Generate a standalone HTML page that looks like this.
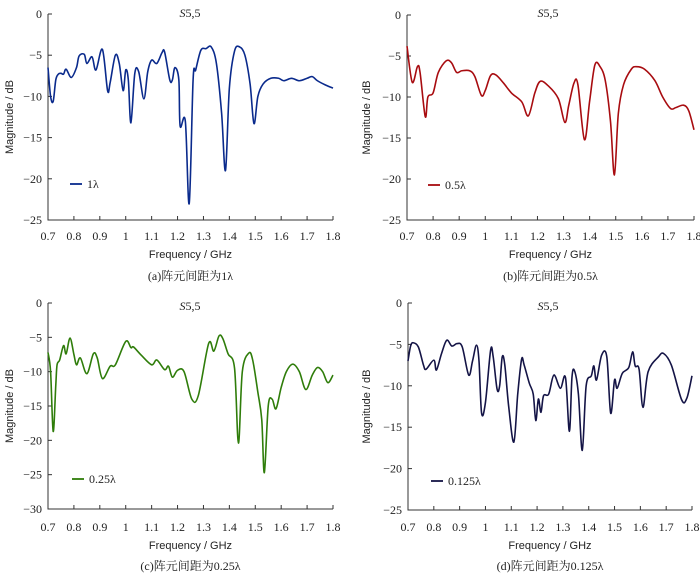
<!DOCTYPE html>
<html><head><meta charset="utf-8"><style>
body{margin:0;background:#fff;width:700px;height:577px;overflow:hidden}
svg text{font-family:"Liberation Serif","Noto Serif CJK SC",serif;font-size:12px;fill:#222}
.sans{font-family:"Liberation Sans","Noto Sans CJK SC",sans-serif;font-size:11px}
</style></head><body>
<svg id="fig" width="700" height="577" xmlns="http://www.w3.org/2000/svg"></svg>
<script>
const freqA=[0.7,0.71,0.72,0.73,0.74,0.75,0.76,0.77,0.79,0.81,0.82,0.84,0.85,0.87,0.885,0.91,0.93,0.94,0.96,0.975,0.99,1.0,1.01,1.02,1.035,1.05,1.07,1.085,1.1,1.12,1.14,1.15,1.17,1.18,1.19,1.205,1.21,1.23,1.245,1.26,1.27,1.29,1.31,1.33,1.35,1.37,1.385,1.40,1.42,1.44,1.46,1.48,1.495,1.51,1.53,1.56,1.59,1.61,1.64,1.67,1.7,1.72,1.74,1.77,1.8];
const magA=[-6.5,-10,-10.6,-8,-7.3,-7.2,-7.3,-6.7,-7.7,-6.5,-5.1,-4.9,-6,-5.2,-6.8,-4.3,-9.3,-8.3,-5,-6,-9.3,-6.8,-8,-13.2,-7.2,-7,-10.3,-7,-5.6,-6,-4.7,-4.6,-8,-8,-6.5,-8,-13.6,-13,-23,-8,-6.8,-4.4,-4.2,-4,-6,-12,-19,-9,-4.5,-4,-5,-8.5,-13.3,-10,-8.5,-7.8,-7.8,-8.1,-7.8,-8.1,-7.8,-7.6,-8.1,-8.6,-9];
const freqB=[0.7,0.72,0.74,0.75,0.77,0.78,0.8,0.82,0.85,0.87,0.89,0.91,0.94,0.96,0.985,1.0,1.02,1.04,1.07,1.1,1.14,1.165,1.19,1.21,1.24,1.28,1.305,1.32,1.34,1.355,1.38,1.40,1.42,1.44,1.46,1.48,1.495,1.51,1.53,1.56,1.58,1.61,1.65,1.68,1.71,1.73,1.76,1.78,1.8];
const magB=[-3.8,-8.2,-6.3,-7,-12.4,-10,-9.5,-7,-5.6,-5.8,-7,-6.8,-6.8,-7.5,-9.8,-9.2,-7.4,-7.3,-8.3,-9.5,-10.6,-12.3,-9.5,-8.1,-8.6,-10.2,-13.1,-11,-8.3,-8.5,-15.2,-10.5,-6.1,-6.3,-8,-13,-19.5,-12,-8.5,-6.6,-6.3,-6.6,-8,-10,-11.4,-11.3,-11,-11.7,-14];
const freqC=[0.7,0.71,0.72,0.73,0.735,0.745,0.76,0.77,0.785,0.8,0.81,0.825,0.85,0.875,0.89,0.91,0.94,0.96,1.0,1.02,1.03,1.06,1.1,1.12,1.15,1.165,1.18,1.2,1.225,1.255,1.28,1.32,1.34,1.36,1.375,1.395,1.42,1.435,1.45,1.475,1.49,1.51,1.525,1.535,1.55,1.565,1.58,1.6,1.62,1.645,1.67,1.695,1.72,1.74,1.76,1.78,1.8];
const magC=[-7.2,-10,-18.7,-12,-9,-8.3,-6.2,-7.4,-5.1,-7.5,-9,-8,-10.3,-7.4,-8,-11,-9.2,-9,-5.6,-6.5,-6.4,-7.6,-9,-8.3,-9.7,-9.2,-10.8,-9.8,-10,-14,-13.5,-5.9,-7,-4.8,-5.2,-7.4,-9.5,-20.4,-10,-7.3,-8.3,-13,-17,-24.7,-15,-14,-15.4,-12.3,-10,-8.9,-10,-12.6,-10.5,-9.4,-10,-11.6,-10.5];
const freqD=[0.7,0.71,0.72,0.74,0.76,0.77,0.8,0.81,0.83,0.85,0.87,0.89,0.91,0.935,0.95,0.965,0.975,0.985,1.0,1.02,1.03,1.045,1.055,1.065,1.075,1.09,1.11,1.125,1.14,1.15,1.17,1.185,1.195,1.205,1.215,1.225,1.245,1.265,1.29,1.31,1.325,1.335,1.345,1.36,1.375,1.39,1.41,1.42,1.43,1.45,1.47,1.485,1.5,1.51,1.53,1.555,1.57,1.58,1.595,1.61,1.63,1.67,1.69,1.72,1.76,1.78,1.8];
const magD=[-7,-5.2,-4.8,-5.3,-7.5,-8,-6.9,-8.1,-6.1,-4.5,-5.2,-4.9,-5.3,-8.7,-7,-5.1,-7,-13.3,-12,-5.7,-6.5,-10.4,-10,-6.5,-7.5,-12.5,-16.8,-11,-6.8,-7.5,-9.7,-11,-14.2,-11.6,-13.2,-11.2,-11,-8.7,-10.3,-9,-15.5,-9,-8.2,-11,-17.8,-10,-8.8,-7.6,-9.3,-6.3,-6.5,-13.3,-9.3,-10.3,-8.5,-7.8,-5.9,-7.6,-8,-12.6,-8.3,-6.5,-6.1,-7.5,-11.7,-11.5,-8.8];
const xTicks=[0.7,0.8,0.9,1,1.1,1.2,1.3,1.4,1.5,1.6,1.7,1.8];
const yTicks25=[0,-5,-10,-15,-20,-25];
const yTicks30=[0,-5,-10,-15,-20,-25,-30];
const legends=["1λ","0.5λ","0.25λ","0.125λ"];
const captions=["(a)阵元间距为1λ","(b)阵元间距为0.5λ","(c)阵元间距为0.25λ","(d)阵元间距为0.125λ"];

const NS="http://www.w3.org/2000/svg";
const svg=document.getElementById('fig');
function mk(tag,attrs,parent,txt){const e=document.createElementNS(NS,tag);for(const k in attrs)e.setAttribute(k,attrs[k]);if(txt!=null)e.textContent=txt;(parent||svg).appendChild(e);return e;}
const panels=[
 {x0:48,x1:333,y0:14,y1:220,ymin:-25,yt:yTicks25,f:freqA,m:magA,c:"#0a2a8c",leg:[70,184],ttl:[190,17],tk:236,fl:254,cap:276,yl:9},
 {x0:407,x1:694,y0:15,y1:220,ymin:-25,yt:yTicks25,f:freqB,m:magB,c:"#a80c10",leg:[428,185],ttl:[548,17],tk:236,fl:254,cap:276,yl:366},
 {x0:48,x1:333,y0:303,y1:509,ymin:-30,yt:yTicks30,f:freqC,m:magC,c:"#2f7d0a",leg:[72,479],ttl:[190,310],tk:527,fl:545,cap:566,yl:9},
 {x0:408,x1:692,y0:303,y1:510,ymin:-25,yt:yTicks25,f:freqD,m:magD,c:"#141446",leg:[431,481],ttl:[548,310],tk:527,fl:545,cap:566,yl:366}];
const names=['a','b','c','d'];
panels.forEach((p,i)=>{
 const g=mk('g',{});
 
 
 const sx=v=>p.x0+(v-0.7)/1.1*(p.x1-p.x0);
 const sy=v=>p.y0+(0-v)/(0-p.ymin)*(p.y1-p.y0);
 const ax=mk('path',{d:`M${p.x0},${p.y0}V${p.y1}H${p.x1}`,stroke:'#333',fill:'none','stroke-width':1},g);
 
 xTicks.forEach(t=>{const x=sx(t);mk('line',{x1:x,x2:x,y1:p.y1,y2:p.y1-4,stroke:'#333'},g);
  const tx=mk('text',{x:x,y:p.tk+4,'text-anchor':'middle'},g,String(t));});
 p.yt.forEach(t=>{const y=sy(t);mk('line',{x1:p.x0,x2:p.x0+4,y1:y,y2:y,stroke:'#333'},g);
  const tx=mk('text',{x:p.x0-6,y:y+4,'text-anchor':'end'},g,t<0?'−'+(-t):String(t));});
 const tt=mk('text',{x:p.ttl[0],y:p.ttl[1],'text-anchor':'middle'},g);
 mk('tspan',{'font-style':'italic'},tt,'S');mk('tspan',{},tt,'5,5');
 const xl=mk('text',{x:(p.x0+p.x1)/2,y:p.fl+4,'text-anchor':'middle',class:'sans'},g,'Frequency / GHz');
 const yc=(p.y0+p.y1)/2;
 const yl=mk('text',{x:p.yl,y:yc,'text-anchor':'middle',class:'sans',transform:`rotate(-90 ${p.yl} ${yc})`,dy:4},g,'Magnitude / dB');
 const cp=mk('text',{x:(p.x0+p.x1)/2,y:p.cap+4,'text-anchor':'middle'},g,captions[i]);
 const pts=p.f.map((f,k)=>[sx(f),sy(p.m[k])]);
 let d=`M${pts[0][0]},${pts[0][1]}`;
 for(let k=0;k<pts.length-1;k++){const p0=pts[Math.max(k-1,0)],p1=pts[k],p2=pts[k+1],p3=pts[Math.min(k+2,pts.length-1)];
  d+=`C${p1[0]+(p2[0]-p0[0])/6},${p1[1]+(p2[1]-p0[1])/6} ${p2[0]-(p3[0]-p1[0])/6},${p2[1]-(p3[1]-p1[1])/6} ${p2[0]},${p2[1]}`;}
 const ln=mk('path',{d:d,stroke:p.c,fill:'none','stroke-width':1.6},g);
 const lg=mk('g',{},g);
 mk('line',{x1:p.leg[0],x2:p.leg[0]+12,y1:p.leg[1],y2:p.leg[1],stroke:p.c,'stroke-width':1.8},lg);
 mk('text',{x:p.leg[0]+17,y:p.leg[1]+4},lg,legends[i]);
});
</script>
</body></html>
